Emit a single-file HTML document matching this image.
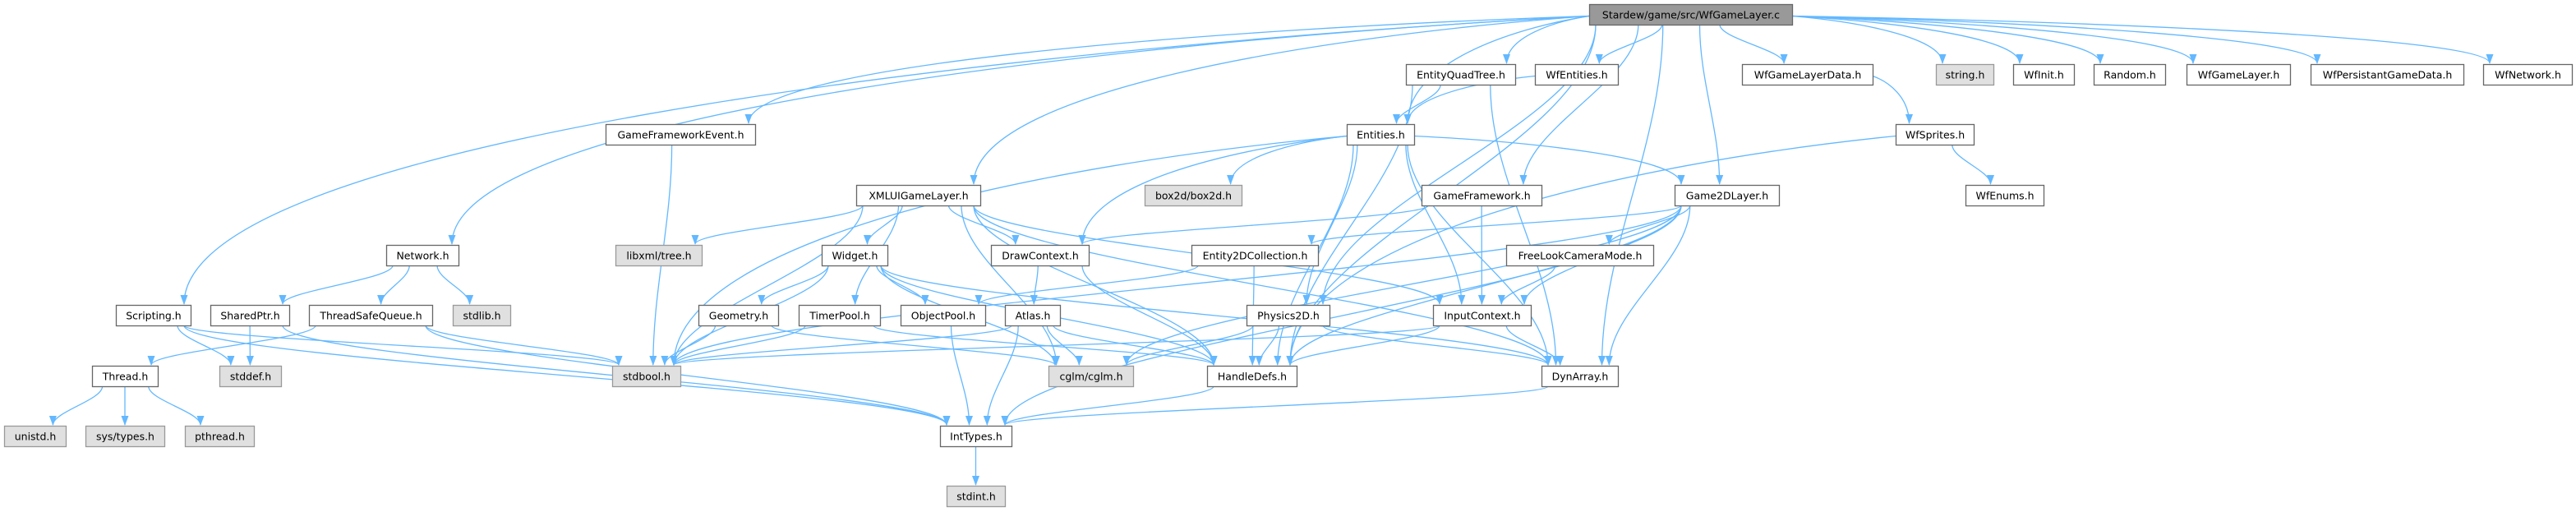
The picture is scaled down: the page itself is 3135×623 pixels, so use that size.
<!DOCTYPE html>
<html><head><meta charset="utf-8">
<style>
html,body{margin:0;padding:0;background:#fff;}
body{width:3135px;height:623px;overflow:hidden;position:relative;font-family:"DejaVu Sans","Liberation Sans",sans-serif;}
svg{position:absolute;left:0;top:0;}
</style></head><body>
<svg id="g" width="3135" height="623" viewBox="0 0 3135 623" xmlns="http://www.w3.org/2000/svg">
<defs><marker id="a" viewBox="0 0 12 10" refX="11" refY="5" markerWidth="12" markerHeight="10" markerUnits="userSpaceOnUse" orient="auto"><path d="M0,0.5 L12,5 L0,9.5 z" fill="#63b8ff"/></marker></defs>
<g id="edges" fill="none" stroke="#63b8ff" stroke-width="1.3"></g>
<g id="nodes"></g>
</svg>
<script>
var R=[5,78,151,225,298,371,445,518,591];
var N={
root:[1934,0,247,"Stardew/game/src/WfGameLayer.c",2],
EQT:[1711,1,133,"EntityQuadTree.h"],
WfEnt:[1868,1,101,"WfEntities.h"],
GLD:[2120,1,159,"WfGameLayerData.h"],
str:[2356,1,70,"string.h",1],
WfInit:[2450,1,74,"WfInit.h"],
Rand:[2548,1,87,"Random.h"],
WfGL:[2661,1,126,"WfGameLayer.h"],
WfPGD:[2812,1,186,"WfPersistantGameData.h"],
WfNet:[3022,1,108,"WfNetwork.h"],
Ent:[1639,2,82,"Entities.h"],
GFE:[737,2,182,"GameFrameworkEvent.h"],
Spr:[2307,2,95,"WfSprites.h"],
XML:[1042,3,151,"XMLUIGameLayer.h"],
box:[1393,3,118,"box2d/box2d.h",1],
GF:[1730,3,146,"GameFramework.h"],
G2D:[2038,3,127,"Game2DLayer.h"],
Enums:[2392,3,95,"WfEnums.h"],
Net:[470,4,88,"Network.h"],
xml:[749,4,105,"libxml/tree.h",1],
Wid:[1000,4,80,"Widget.h"],
DC:[1206,4,119,"DrawContext.h"],
E2C:[1450,4,154,"Entity2DCollection.h"],
FLC:[1833,4,179,"FreeLookCameraMode.h"],
Scr:[141,5,91,"Scripting.h"],
SP:[256,5,96,"SharedPtr.h"],
TSQ:[376,5,150,"ThreadSafeQueue.h"],
stdlib:[551,5,70,"stdlib.h",1],
Geo:[850,5,97,"Geometry.h"],
TP:[972,5,99,"TimerPool.h"],
OP:[1096,5,103,"ObjectPool.h"],
Atl:[1223,5,67,"Atlas.h"],
Phy:[1517,5,101,"Physics2D.h"],
IC:[1744,5,119,"InputContext.h"],
Thr:[112,6,80,"Thread.h"],
stddef:[267,6,75,"stddef.h",1],
bool:[745,6,83,"stdbool.h",1],
cglm:[1276,6,103,"cglm/cglm.h",1],
HD:[1469,6,109,"HandleDefs.h"],
DA:[1876,6,93,"DynArray.h"],
uni:[5,7,75,"unistd.h",1],
sys:[104,7,96,"sys/types.h",1],
pth:[225,7,84,"pthread.h",1],
IT:[1144,7,87,"IntTypes.h"],
sint:[1152,8,71,"stdint.h",1]
};
var E=[
["root","Scr"],["root","GFE"],["root","Net"],["root","XML"],["root","EQT"],["root","WfEnt"],["root","Ent"],["root","GF"],["root","G2D"],["root","GLD"],["root","str"],["root","WfInit"],["root","Rand"],["root","WfGL"],["root","WfPGD"],["root","WfNet"],["root","DA"],["root","HD"],["root","Phy"],
["EQT","Ent"],["EQT","HD"],["EQT","DA"],["WfEnt","Ent"],
["Ent","bool"],["Ent","box"],["Ent","DC"],["Ent","G2D"],["Ent","IC"],["Ent","Phy"],["Ent","DA"],["Ent","HD"],
["GFE","bool"],["GLD","Spr"],["Spr","Enums"],["Spr","HD"],
["Net","SP"],["Net","TSQ"],["Net","stdlib"],
["XML","xml"],["XML","bool"],["XML","Wid"],["XML","TP"],["XML","DC"],["XML","HD"],["XML","cglm"],["XML","IC"],["XML","DA"],
["Wid","Geo"],["Wid","OP"],["Wid","bool"],["Wid","HD"],["Wid","DA"],["Wid","cglm"],
["Scr","stddef"],["Scr","bool"],["Scr","IT"],["SP","stddef"],["SP","IT"],
["TSQ","Thr"],["TSQ","bool"],["TSQ","IT"],["Thr","uni"],["Thr","sys"],["Thr","pth"],
["Geo","bool"],["Geo","cglm"],["TP","bool"],["TP","HD"],
["GF","DC"],["GF","IC"],
["G2D","E2C"],["G2D","FLC"],["G2D","IC"],["G2D","HD"],["G2D","DA"],["G2D","IT"],["G2D","cglm"],["G2D","bool"],
["DC","Atl"],["DC","HD"],["E2C","OP"],["E2C","HD"],["FLC","IC"],["OP","IT"],
["Atl","bool"],["Atl","cglm"],["Atl","HD"],["Atl","IT"],
["Phy","cglm"],["Phy","HD"],["Phy","DA"],
["IC","bool"],["IC","HD"],["IC","DA"],
["HD","IT"],["DA","IT"],["IT","sint"]
];
var H=25,ns="http://www.w3.org/2000/svg";
function box(k){var n=N[k];return {x:n[0],y:R[n[1]],w:n[2],r:n[1]};}
var eg=document.getElementById("edges"),ng=document.getElementById("nodes");
E.forEach(function(e){
 var s=box(e[0]),t=box(e[1]);
 var scx=s.x+s.w/2,tcx=t.x+t.w/2;
 var tx=Math.max(t.x+8,Math.min(t.x+t.w-8,tcx+(scx-tcx)*0.2));
 var ty=t.y;
 var d;
 var dx=tcx-scx;
 var dyAll=ty-(s.y+H);
 if(s.r<=2&&Math.abs(dx)>1.6*(dyAll+H)&&(tx<s.x||tx>s.x+s.w)){
  var sx=dx<0?s.x:s.x+s.w, sy=s.y+H/2+2;
  var dy=ty-sy;
  d="M"+sx+","+sy+" C"+(sx+(tx-sx)*0.45)+","+(sy+dy*0.12)+" "+tx+","+(ty-dy*0.55)+" "+tx+","+(ty-1);
 } else {
  var sx=Math.max(s.x+8,Math.min(s.x+s.w-8,scx+dx*0.25));
  var sy=s.y+H; var dy=ty-sy;
  d="M"+sx+","+sy+" C"+sx+","+(sy+dy*0.35)+" "+tx+","+(ty-dy*0.35)+" "+tx+","+(ty-1);
 }
 var p=document.createElementNS(ns,"path");
 p.setAttribute("d",d);
 p.setAttribute("marker-end","url(#a)");
 eg.appendChild(p);
});
for(var k in N){
 var n=N[k],b=box(k);
 var r=document.createElementNS(ns,"rect");
 r.setAttribute("x",b.x+0.5);r.setAttribute("y",b.y+0.5);r.setAttribute("width",b.w);r.setAttribute("height",H);
 var t=n[4]||0;
 r.setAttribute("fill",t==2?"#999999":t==1?"#e0e0e0":"#ffffff");
 r.setAttribute("stroke",t==1?"#999999":"#666666");r.setAttribute("stroke-width","1.3");
 ng.appendChild(r);
 var tx=document.createElementNS(ns,"text");
 tx.setAttribute("x",b.x+b.w/2+0.5);tx.setAttribute("y",b.y+17.5);
 tx.setAttribute("text-anchor","middle");tx.setAttribute("font-size","12.5");
 tx.setAttribute("font-family","DejaVu Sans, Liberation Sans, sans-serif");tx.setAttribute("fill","#000");
 tx.textContent=n[3];ng.appendChild(tx);
}
</script>
</body></html>
